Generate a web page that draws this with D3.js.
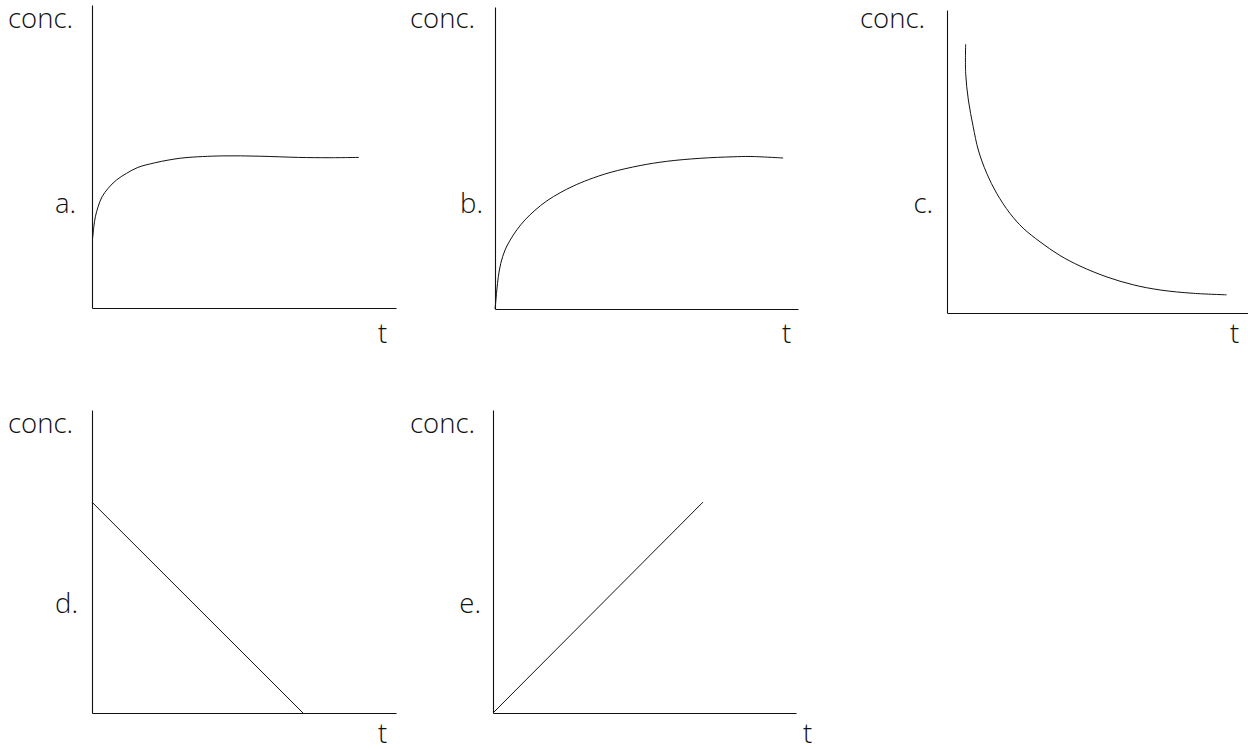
<!DOCTYPE html>
<html>
<head>
<meta charset="utf-8">
<script src="https://cdn.jsdelivr.net/npm/d3@7"></script>
<style>
  html, body { margin: 0; padding: 0; background: #fff; }
  svg { display: block; }
  text { font-family: "Open Sans", "Noto Sans", sans-serif; font-weight: 300; fill: #111; }
</style>
</head>
<body>
<svg id="chart" width="1248" height="749"></svg>
<script>
// Concentration vs. time sketches, five panels a–e (arbitrary units, 0–10 on both axes)
const panelIds = ["a", "b", "c", "d", "e"];
const yAxisLabel = "conc.";
const xAxisLabel = "t";

// a: fast rise from a nonzero start to a plateau
const tA = [0.02, 0.06, 0.11, 0.20, 0.33, 0.53, 0.80, 1.13, 1.51, 2.06, 2.50, 3.06, 4.27, 5.50, 6.80, 7.80, 8.78];
const cA = [2.30, 2.68, 3.01, 3.34, 3.67, 3.95, 4.22, 4.44, 4.64, 4.79, 4.88, 4.96, 5.02, 5.01, 4.97, 4.96, 4.97];

// b: slower rise from zero to a plateau
const tB = [0, 0.02, 0.06, 0.11, 0.19, 0.33, 0.50, 0.72, 0.99, 1.32, 1.71, 2.15, 2.58, 3.08, 3.80, 4.79, 5.67, 6.77, 7.86, 8.42, 9.51];
const cB = [0, 0.19, 0.63, 1.07, 1.51, 1.95, 2.28, 2.62, 2.95, 3.27, 3.58, 3.85, 4.07, 4.28, 4.52, 4.75, 4.89, 4.99, 5.04, 5.05, 5.00];

// c: decay toward a low baseline
const tC = [0.62, 0.62, 0.71, 0.87, 1.04, 1.32, 1.65, 2.09, 2.53, 3.09, 3.75, 4.42, 5.31, 6.19, 7.08, 8.18, 9.29];
const cC = [8.87, 7.91, 7.03, 6.15, 5.38, 4.61, 3.95, 3.29, 2.80, 2.35, 1.90, 1.55, 1.19, 0.93, 0.76, 0.65, 0.60];

// d: linear decrease to zero
const tD = [0, 6.94];
const cD = [6.96, 0];

// e: linear increase from zero
const tE = [0, 6.93];
const cE = [0, 6.96];

const seriesT = [tA, tB, tC, tD, tE];
const seriesC = [cA, cB, cC, cD, cE];

// Panel frames: left/right/top/bottom of the axis box, plus label anchors
const layout = [
  { x0: 92,  x1: 396,  yT: 5,   yB: 308, concX: 73,  concY: 28,  idX: 76,  idY: 213, tX: 378, tY: 343, smooth: true },
  { x0: 495, x1: 798,  yT: 7,   yB: 309, concX: 475, concY: 28,  idX: 483, idY: 213, tX: 782, tY: 343, smooth: true },
  { x0: 947, x1: 1248, yT: 10,  yB: 313, concX: 925, concY: 28,  idX: 933, idY: 213, tX: 1230, tY: 343, smooth: true },
  { x0: 92,  x1: 396,  yT: 410, yB: 713, concX: 73,  concY: 433, idX: 78,  idY: 613, tX: 378, tY: 743, smooth: false },
  { x0: 493, x1: 796,  yT: 410, yB: 713, concX: 475, concY: 433, idX: 481, idY: 613, tX: 803, tY: 743, smooth: false }
];

const svg = d3.select("#chart");
const fontSize = 27.5;

panelIds.forEach((id, i) => {
  const L = layout[i];
  const x = d3.scaleLinear().domain([0, 10]).range([L.x0, L.x1]);
  const y = d3.scaleLinear().domain([0, 10]).range([L.yB, L.yT]);
  const g = svg.append("g").attr("class", "panel panel-" + id);

  // axes: plain lines, no ticks
  const xAxis = d3.axisBottom(x).tickValues([]).tickSizeOuter(0);
  const yAxis = d3.axisLeft(y).tickValues([]).tickSizeOuter(0);
  g.append("g").attr("transform", `translate(0,${L.yB})`).call(xAxis)
    .select(".domain").attr("stroke", "#111").attr("stroke-width", 1.1);
  g.append("g").attr("transform", `translate(${L.x0},0)`).call(yAxis)
    .select(".domain").attr("stroke", "#111").attr("stroke-width", 1.1);

  const pts = seriesT[i].map((t, k) => [t, seriesC[i][k]]);
  const line = d3.line()
    .x(d => x(d[0]))
    .y(d => y(d[1]))
    .curve(L.smooth ? d3.curveCatmullRom.alpha(0.5) : d3.curveLinear);

  g.append("path")
    .datum(pts)
    .attr("fill", "none")
    .attr("stroke", "#111")
    .attr("stroke-width", 1)
    .attr("d", line);

  g.append("text").attr("x", L.concX).attr("y", L.concY)
    .attr("text-anchor", "end").attr("font-size", fontSize).text(yAxisLabel);
  g.append("text").attr("x", L.idX).attr("y", L.idY)
    .attr("text-anchor", "end").attr("font-size", fontSize).text(id + ".");
  g.append("text").attr("x", L.tX).attr("y", L.tY)
    .attr("text-anchor", "start").attr("font-size", fontSize).text(xAxisLabel);
});
</script>
</body>
</html>
